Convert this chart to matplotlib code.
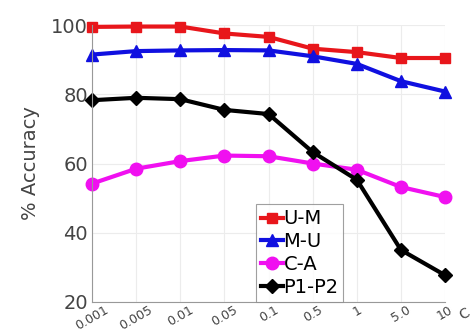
import matplotlib
matplotlib.use('Agg')
import matplotlib.pyplot as plt

# x categories (regularisation weight)
x_labels = ['0.001', '0.005', '0.01', '0.05', '0.1', '0.5', '1', '5.0', '10']

um = [99.5, 99.6, 99.6, 97.6, 96.6, 93.2, 92.2, 90.5, 90.5]
mu = [91.5, 92.5, 92.7, 92.8, 92.7, 91.0, 88.8, 83.8, 80.8]
ca = [54.2, 58.5, 60.7, 62.3, 62.1, 60.0, 58.2, 53.2, 50.3]
p1p2 = [78.3, 79.0, 78.6, 75.5, 74.3, 63.3, 55.3, 35.0, 27.7]

fig = plt.figure(figsize=(4.7, 3.31), dpi=100)
ax = fig.add_axes([0.196, 0.088, 0.751, 0.836])

xs = list(range(len(x_labels)))
ax.plot(xs, um, color='#e8161b', marker='s', markersize=7.5, linewidth=3, label='U-M', clip_on=False)
ax.plot(xs, mu, color='#1010e0', marker='^', markersize=9, linewidth=3, label='M-U', clip_on=False)
ax.plot(xs, ca, color='#f010f0', marker='o', markersize=9, linewidth=3, label='C-A', clip_on=False)
ax.plot(xs, p1p2, color='black', marker='D', markersize=7, linewidth=3, label='P1-P2', clip_on=False)

ax.set_xlim(0, len(x_labels) - 1)
ax.set_ylim(20, 100)
ax.set_yticks([20, 40, 60, 80, 100])
ax.set_xticks(xs)
ax.set_xticklabels(x_labels, rotation=30, fontsize=9, color='#444444')
ax.tick_params(axis='y', labelsize=14, colors='#444444', length=0, pad=3)
ax.tick_params(axis='x', length=0, pad=1)
ax.set_ylabel('% Accuracy', fontsize=14, color='#444444', labelpad=8)

ax.grid(True, color='#ececec', linewidth=0.8)
for side in ['top', 'right']:
    ax.spines[side].set_visible(False)
for side in ['left', 'bottom']:
    ax.spines[side].set_color('#999999')

leg = ax.legend(loc='lower left', bbox_to_anchor=(0.465, 0.0), fontsize=14,
                handlelength=1.1, handletextpad=0.05, borderpad=0.25,
                labelspacing=0.2, fancybox=False, borderaxespad=0)
leg.get_frame().set_edgecolor('#888888')
leg.get_frame().set_linewidth(0.8)

fig.text(0.972, 0.035, 'C', fontsize=10, color='#444444', rotation=30)

plt.savefig('out.png', dpi=100)
plt.close()
